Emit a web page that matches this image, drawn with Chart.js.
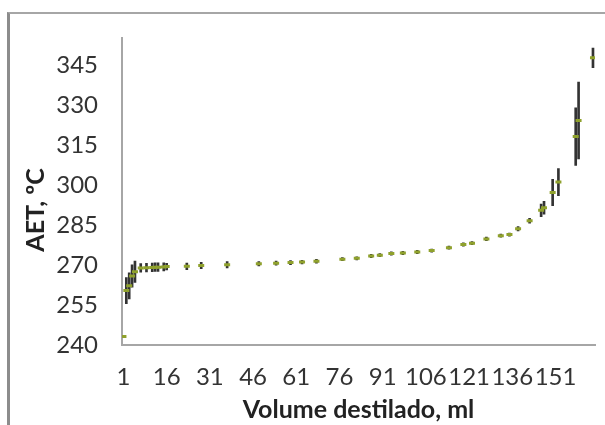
<!DOCTYPE html>
<html>
<head>
<meta charset="utf-8">
<script src="https://cdn.jsdelivr.net/npm/chart.js@4.4.1/dist/chart.umd.min.js"></script>
<style>
  body { margin: 0; background: #fff; }
  #wrap { position: relative; width: 605px; height: 425px; }
  #frame {
    position: absolute; left: 7px; top: 12px; right: 0; bottom: 0;
    border-left: 3px solid #8c8c8c; border-top: 2px solid #a6a6a6;
    pointer-events: none;
  }
</style>
</head>
<body>
<div id="wrap">
  <canvas id="chart" width="605" height="425"></canvas>
  <div id="frame"></div>
</div>
<script>
// volume destilado (ml), temperatura AET (ºC) e desvio
const volume = [1, 2, 3, 4, 5, 7, 9, 11, 12, 13, 15, 16, 23, 28, 37, 48, 54, 59, 63, 68, 77,
  82, 87, 90, 94, 98, 103, 108, 114, 119, 122, 127, 132, 135, 138, 142,
  146, 147, 150, 152, 158, 159, 164];
const aet = [243.2, 260.4, 262.2, 265.9, 267.5, 268.9, 269.0, 269.1, 269.2, 269.2, 269.3, 269.4,
  269.5, 269.8, 270.1, 270.5, 270.7, 270.9, 271.1, 271.4, 272.2,
  272.5, 273.4, 273.7, 274.3, 274.5, 274.9, 275.4, 276.5, 277.7, 278.2, 279.8, 281.0, 281.4, 283.6, 286.6,
  290.5, 291.5, 297.2, 301.1, 318.2, 324.2, 347.7];
const desvio = [0.4, 4.9, 4.9, 4.2, 4.0, 1.6, 1.6, 1.6, 1.6, 1.6, 1.5, 1.2,
  1.2, 1.2, 1.2, 0.8, 0.8, 0.8, 0.7, 0.7, 0.6,
  0.6, 0.6, 0.6, 0.6, 0.6, 0.6, 0.6, 0.6, 0.6, 0.6, 0.7, 0.6, 0.6, 0.8, 0.9,
  2.4, 2.4, 4.9, 5.1, 10.8, 14.4, 3.7];
const xTicks = [1, 16, 31, 46, 61, 76, 91, 106, 121, 136, 151];
const yTicks = [240, 255, 270, 285, 300, 315, 330, 345];

const pontos = volume.map((v, i) => ({ x: v, y: aet[i] }));
const barras = volume.map((v, i) => ({ x: v, y: [aet[i] - desvio[i], aet[i] + desvio[i]] }));

const tickFont = { family: 'Lato', size: 24 };
const titleFont = { family: 'Lato', size: 25, weight: 'bold' };

new Chart('chart', {
  type: 'scatter',
  data: {
    datasets: [{
      type: 'bar',
      data: barras,
      backgroundColor: '#333',
      borderWidth: 0,
      barThickness: 2,
      grouped: false,
      order: 2
    }, {
      type: 'scatter',
      data: pontos,
      pointStyle: 'line',
      pointRadius: 3,
      borderWidth: 3,
      borderColor: '#8fa12c',
      backgroundColor: '#8fa12c',
      order: 1
    }]
  },
  options: {
    responsive: false,
    animation: false,
    layout: { padding: { left: 10, top: 27, right: 10, bottom: 0 } },
    plugins: { legend: { display: false }, tooltip: { enabled: false } },
    scales: {
      x: {
        type: 'linear',
        offset: false,
        min: 0.5,
        max: 164.7,
        afterBuildTicks: s => { s.ticks = xTicks.map(v => ({ value: v })); },
        afterFit: s => { s.height = 80; },
        grid: { display: false, drawTicks: false },
        border: { display: true, color: '#a6a6a6', width: 2 },
        ticks: { font: tickFont, color: '#333', padding: 18, autoSkip: false, maxRotation: 0 },
        title: { display: true, text: 'Volume destilado, ml', font: titleFont, color: '#222', padding: { top: 0, bottom: 0 } }
      },
      y: {
        min: 240,
        max: 355,
        afterBuildTicks: s => { s.ticks = yTicks.map(v => ({ value: v })); },
        afterFit: s => { s.width = 112; },
        grid: { display: false, drawTicks: false },
        border: { display: true, color: '#a6a6a6', width: 2 },
        ticks: { font: tickFont, color: '#333', padding: 24 },
        title: {
          display: true,
          text: 'AET, ºC\u00a0\u00a0\u00a0\u00a0\u00a0\u00a0',
          font: titleFont, color: '#222', padding: { top: 11, bottom: 0 }
        }
      }
    }
  }
});
</script>
</body>
</html>
